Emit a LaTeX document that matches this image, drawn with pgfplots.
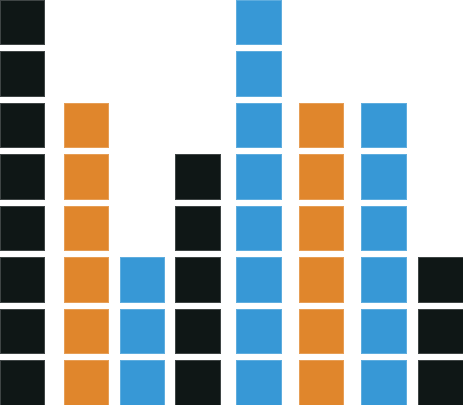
\documentclass[border=0pt]{standalone}
\usepackage{pgfplots}
\pgfplotsset{compat=1.18}
\definecolor{cblack}{HTML}{0F1716}
\definecolor{corange}{HTML}{E0862C}
\definecolor{cblue}{HTML}{3798D6}
\pgfplotsset{
  cell/.style={only marks, mark=square*, mark size=22.3bp, color=#1,
    mark options={fill=#1, draw=#1!80!white, line width=0.4bp}},
}
\begin{document}
\begin{tikzpicture}
\begin{axis}[
  width=463bp, height=406bp, scale only axis,
  axis lines=none, ticks=none,
  xmin=0, xmax=463,
  ymin=0.533, ymax=8.432,
]
\addplot[cell=cblack] coordinates {
(22.65,1) (22.65,2) (22.65,3) (22.65,4) (22.65,5) (22.65,6) (22.65,7) (22.65,8)};
\addplot[cell=corange] coordinates {
(86.3,1) (86.3,2) (86.3,3) (86.3,4) (86.3,5) (86.3,6)};
\addplot[cell=cblue] coordinates {
(142.3,1) (142.3,2) (142.3,3)};
\addplot[cell=cblack] coordinates {
(197.5,1) (197.5,2) (197.5,3) (197.5,4) (197.5,5)};
\addplot[cell=cblue] coordinates {
(258.5,1) (258.5,2) (258.5,3) (258.5,4) (258.5,5) (258.5,6) (258.5,7) (258.5,8)};
\addplot[cell=corange] coordinates {
(321.2,1) (321.2,2) (321.2,3) (321.2,4) (321.2,5) (321.2,6)};
\addplot[cell=cblue] coordinates {
(383.8,1) (383.8,2) (383.8,3) (383.8,4) (383.8,5) (383.8,6)};
\addplot[cell=cblack] coordinates {
(440.5,1) (440.5,2) (440.5,3)};
\end{axis}
\end{tikzpicture}
\end{document}
